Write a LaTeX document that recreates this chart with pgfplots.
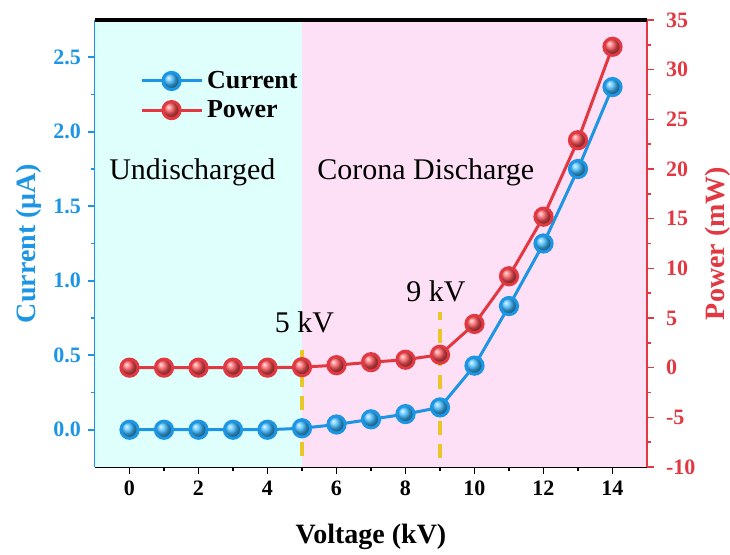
\documentclass[border=0pt]{standalone}
\usepackage{pgfplots}
\pgfplotsset{compat=1.18}
\usepackage{fontspec}
\setmainfont{Liberation Serif}

\definecolor{cblue}{RGB}{28,150,228}
\definecolor{cred}{RGB}{226,56,66}
\definecolor{ballblue}{RGB}{60,185,255}
\definecolor{ballred}{RGB}{250,80,85}
\definecolor{bgcyan}{RGB}{222,255,252}
\definecolor{bgpink}{RGB}{253,224,246}
\definecolor{dashy}{RGB}{232,200,40}

% Current (uA) versus voltage (kV)
\pgfplotstableread{
V I
0 0
1 0
2 0
3 0
4 0
5 0.01
6 0.035
7 0.07
8 0.105
9 0.15
10 0.43
11 0.83
12 1.25
13 1.75
14 2.30
}\currenttable

% Power (mW) versus voltage (kV)
\pgfplotstableread{
V P
0 0
1 0
2 0
3 0
4 0
5 0.05
6 0.25
7 0.55
8 0.8
9 1.3
10 4.4
11 9.2
12 15.2
13 22.9
14 32.3
}\powertable

\pgfplotsset{
  common/.style={
    scale only axis,
    width=276pt, height=223.5pt,
    xmin=-1, xmax=15,
    clip=false,
    tick align=outside,
    major tick length=3.5pt,
    minor tick length=2pt,
    tick style={line width=0.8pt},
    /pgf/number format/assume math mode=true,
    tick label style={font=\fontsize{11}{13}\selectfont\bfseries},
    label style={font=\fontsize{14}{16}\selectfont\bfseries},
  },
}

\begin{document}
\begin{tikzpicture}
\begin{axis}[
  common,
  ymin=-0.25, ymax=2.75,
  axis x line*=bottom, axis y line*=left,
  xtick={0,2,...,14}, minor x tick num=1,
  ytick={0,0.5,...,2.5}, minor y tick num=1,
  yticklabel style={text=cblue, /pgf/number format/fixed,
    /pgf/number format/fixed zerofill, /pgf/number format/precision=1},
  x axis line style={black, line width=1.3pt},
  y axis line style={cblue, line width=1.3pt},
  ytick style={cblue, line width=0.8pt},
  xtick style={black, line width=0.8pt},
  xlabel={Voltage (kV)},
  ylabel={Current (μA)},
  ylabel style={text=cblue, yshift=-1pt},
  xlabel style={yshift=-7pt},
  legend style={at={(rel axis cs:0.07,0.905)}, anchor=north west,
    draw=none, fill=none, font=\fontsize{13}{16.5}\selectfont\bfseries,
    row sep=0.5pt},
  legend cell align=left,
  legend image code/.code={\draw[mark repeat=2,mark phase=2,#1]
    plot coordinates {(0pt,0pt) (15pt,0pt) (30pt,0pt)};},
]
  % regime backgrounds
  \fill[bgcyan] (axis cs:-1,-0.25) rectangle (axis cs:5,2.75);
  \fill[bgpink] (axis cs:5,-0.25) rectangle (axis cs:15,2.75);
  \coordinate (sw) at (rel axis cs:0,0);
  \coordinate (nw) at (rel axis cs:0,1);
  \coordinate (ne) at (rel axis cs:1,1);

  % threshold markers
  \draw[dashy, line width=1.6pt, dash pattern=on 7pt off 4.5pt]
    (axis cs:5,-0.175) -- (axis cs:5,0.585);
  \draw[dashy, line width=1.6pt, dash pattern=on 7pt off 4.5pt]
    (axis cs:9,-0.19) -- (axis cs:9,0.79);

  \node[font=\fontsize{15}{18}\selectfont] at (axis cs:1.82,1.73) {Undischarged};
  \node[font=\fontsize{15}{18}\selectfont] at (axis cs:8.59,1.73) {Corona Discharge};
  \node[font=\fontsize{15}{18}\selectfont] at (axis cs:5.07,0.72) {5 kV};
  \node[font=\fontsize{15}{18}\selectfont] at (axis cs:8.88,0.93) {9 kV};

  \addplot[cblue, line width=1.5pt, mark=ball, mark size=4.3pt,
    mark options={ball color=ballblue}] table[x=V, y=I] {\currenttable};
  \addlegendentry{Current}
  \addlegendimage{cred, line width=1.5pt, mark=ball, mark size=4.3pt,
    mark options={ball color=ballred}}
  \addlegendentry{Power}
\end{axis}

\begin{axis}[
  common,
  ymin=-10, ymax=35,
  axis x line=none, axis y line*=right,
  ytick={-10,-5,...,35}, minor y tick num=1,
  y axis line style={cred, line width=1.3pt},
  ytick style={cred, line width=0.8pt},
  yticklabel style={text=cred, xshift=2.5pt},
  ylabel={Power (mW)},
  ylabel style={text=cred, yshift=2pt},
]
  \addplot[cred, line width=1.5pt, mark=ball, mark size=4.3pt,
    mark options={ball color=ballred}] table[x=V, y=P] {\powertable};
\end{axis}

% top frame line
\draw[black, line width=1.7pt] (nw) -- (ne);

\pgfresetboundingbox
\path (sw) ++(-47.5pt,-44pt) rectangle ++(365pt,277.5pt);
\end{tikzpicture}
\end{document}
